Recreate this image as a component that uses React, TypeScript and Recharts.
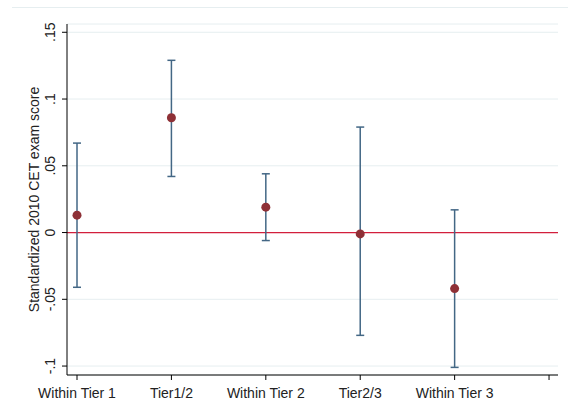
import React from 'react'
import {
  ComposedChart,
  Scatter,
  ErrorBar,
  XAxis,
  YAxis,
  CartesianGrid,
  ReferenceLine,
} from 'recharts'

const categories = ['Within Tier 1', 'Tier1/2', 'Within Tier 2', 'Tier2/3', 'Within Tier 3']
const estimates = [0.013, 0.086, 0.019, -0.001, -0.042]
const ciLow = [-0.041, 0.042, -0.006, -0.077, -0.101]
const ciHigh = [0.067, 0.129, 0.044, 0.079, 0.017]
const yTicks = [-0.1, -0.05, 0, 0.05, 0.1, 0.15]
const yTickLabels = ['-.1', '-.05', '0', '.05', '.1', '.15']
const xTicks = [1, 2, 3, 4, 5, 6]

const FONT = '"Liberation Sans", Arial, sans-serif'
const TEXT = '#222'

const data = categories.map((name, i) => ({
  x: i + 1,
  name,
  y: estimates[i],
  err: [estimates[i] - ciLow[i], ciHigh[i] - estimates[i]],
}))

function YTick(props: any) {
  const { y, payload } = props
  const idx = yTicks.indexOf(payload.value)
  const label = idx >= 0 ? yTickLabels[idx] : String(payload.value)
  return (
    <text
      x={55}
      y={y}
      transform={`rotate(-90, 55, ${y})`}
      textAnchor="middle"
      fontSize={14}
      fontFamily={FONT}
      fill={TEXT}
    >
      {label}
    </text>
  )
}

function YLabel(props: any) {
  const vb = props.viewBox || {}
  const cy = vb.y != null ? vb.y + vb.height / 2 : 199.5
  return (
    <text
      x={39}
      y={cy}
      transform={`rotate(-90, 39, ${cy})`}
      textAnchor="middle"
      fontSize={14}
      fontFamily={FONT}
      fill={TEXT}
    >
      Standardized 2010 CET exam score
    </text>
  )
}

function Dot(props: any) {
  const { cx, cy } = props
  return <circle cx={cx} cy={cy} r={4.5} fill="#8e3036" />
}

export default function App() {
  return (
    <div style={{ position: 'absolute', left: 0, top: 0, width: 568, height: 415, background: '#fff' }}>
      <div
        style={{ position: 'absolute', left: 12, top: 7, width: 556, height: 1, background: '#e6eef0' }}
      />
      <ComposedChart
        width={568}
        height={415}
        data={data}
        margin={{ top: 24, right: 10, bottom: 10, left: 0 }}
      >
        <CartesianGrid horizontal vertical={false} stroke="#e6eef0" strokeWidth={1} />
        <XAxis
          type="number"
          dataKey="x"
          domain={[0.894, 6.095]}
          allowDataOverflow
          ticks={xTicks}
          interval={0}
          tickFormatter={(v: number) => categories[v - 1] ?? ''}
          height={30}
          tickSize={5}
          tickMargin={8}
          stroke="#000"
          tick={{ fontSize: 14, fontFamily: FONT, fill: TEXT }}
        />
        <YAxis
          type="number"
          dataKey="y"
          domain={[-0.1067, 0.1562]}
          allowDataOverflow
          ticks={yTicks}
          interval={0}
          width={67}
          tickSize={5}
          stroke="#000"
          tick={<YTick />}
          label={{ content: <YLabel /> }}
        />
        <ReferenceLine y={0} stroke="#d21f3c" strokeWidth={1.3} />
        <Scatter data={data} dataKey="y" isAnimationActive={false} shape={<Dot />}>
          <ErrorBar
            dataKey="err"
            direction="y"
            width={4}
            stroke="#436785"
            strokeWidth={1.5}
            isAnimationActive={false}
          />
        </Scatter>
      </ComposedChart>
    </div>
  )
}
